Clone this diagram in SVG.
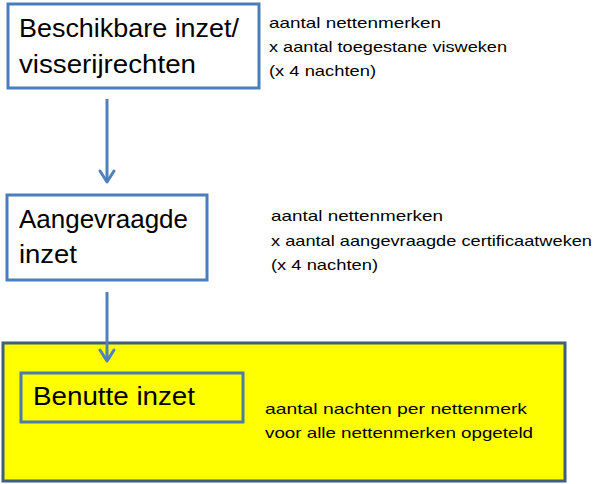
<svg xmlns="http://www.w3.org/2000/svg" width="615" height="484" viewBox="0 0 615 484">
<defs>
<style>
.box{fill:#ffffff;stroke:#4a7ebb;stroke-width:3}
.big{font-family:"Liberation Sans",Arial,sans-serif;font-size:25px;fill:#000}
.small{font-family:"Liberation Sans",Arial,sans-serif;font-size:15px;fill:#000}
.conn{stroke:#4f81bd;stroke-width:3;fill:none}
.head{stroke:#4f81bd;stroke-width:3;fill:none;stroke-linecap:round;stroke-linejoin:round}
</style>
</defs>
<rect width="615" height="484" fill="#ffffff"/>
<g id="benutte-container">
<rect x="3" y="343" width="562" height="138" fill="#ffff00" stroke="#3f5f80" stroke-width="3"/>
</g>
<g id="beschikbare">
<rect class="box" x="8" y="4" width="251" height="84"/>
<text class="big" x="19" y="37" textLength="220" lengthAdjust="spacingAndGlyphs">Beschikbare inzet/</text>
<text class="big" x="19" y="73" textLength="177" lengthAdjust="spacingAndGlyphs">visserijrechten</text>
</g>
<g id="beschikbare-note">
<text class="small" x="269" y="28" textLength="172" lengthAdjust="spacingAndGlyphs">aantal nettenmerken</text>
<text class="small" x="269" y="52" textLength="238" lengthAdjust="spacingAndGlyphs">x aantal toegestane visweken</text>
<text class="small" x="269" y="76" textLength="107" lengthAdjust="spacingAndGlyphs">(x 4 nachten)</text>
</g>
<g id="aangevraagde">
<rect class="box" x="7" y="195" width="200" height="85"/>
<text class="big" x="19" y="228" textLength="169" lengthAdjust="spacingAndGlyphs">Aangevraagde</text>
<text class="big" x="19" y="263" textLength="58" lengthAdjust="spacingAndGlyphs">inzet</text>
</g>
<g id="aangevraagde-note">
<text class="small" x="271" y="221" textLength="172" lengthAdjust="spacingAndGlyphs">aantal nettenmerken</text>
<text class="small" x="271" y="246" textLength="321" lengthAdjust="spacingAndGlyphs">x aantal aangevraagde certificaatweken</text>
<text class="small" x="271" y="270" textLength="107" lengthAdjust="spacingAndGlyphs">(x 4 nachten)</text>
</g>
<g id="benutte">
<rect x="21" y="373" width="222" height="49" fill="#ffff00" stroke="#4a7ea8" stroke-width="3"/>
<text class="big" x="33" y="405" textLength="162" lengthAdjust="spacingAndGlyphs">Benutte inzet</text>
</g>
<g id="benutte-note">
<text class="small" x="265" y="414" textLength="262" lengthAdjust="spacingAndGlyphs">aantal nachten per nettenmerk</text>
<text class="small" x="265" y="438" textLength="268" lengthAdjust="spacingAndGlyphs">voor alle nettenmerken opgeteld</text>
</g>
<g id="connectors">
<line class="conn" x1="107" y1="99" x2="107" y2="182"/>
<polyline class="head" points="100,171 107,182 114,171"/>
<line class="conn" x1="107" y1="292" x2="107" y2="361"/>
<polyline class="head" points="100,350 107,361 114,350"/>
</g>
</svg>
